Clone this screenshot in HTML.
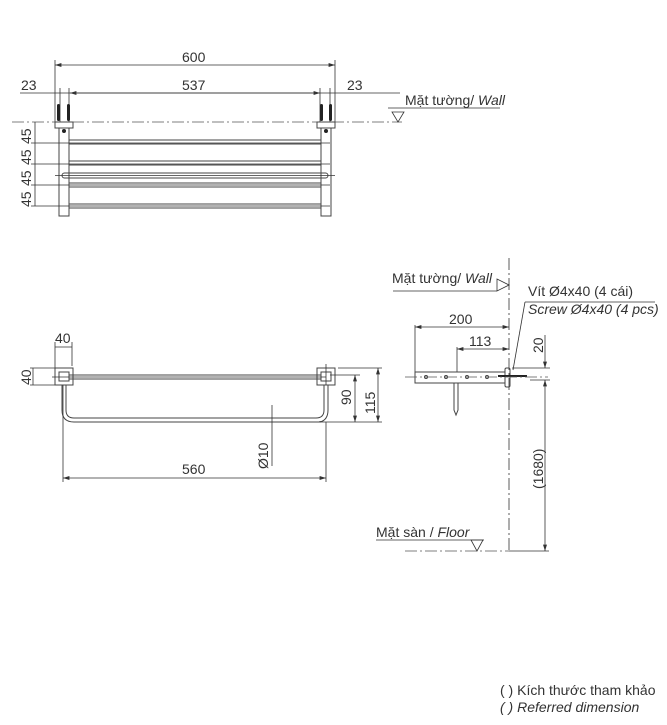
<!DOCTYPE html>
<html><head><meta charset="utf-8"><style>
html,body{margin:0;padding:0;background:#fff;}
svg{display:block;}
text{font-family:"Liberation Sans","DejaVu Sans",sans-serif;fill:#333;font-size:14px;}
.d{stroke:#333;stroke-width:0.8;fill:none;}
.t{stroke:#444;stroke-width:1;fill:none;}
.c{stroke:#555;stroke-width:0.8;fill:none;stroke-dasharray:12 3 2 3;}
</style></head><body>
<svg width="667" height="725" viewBox="0 0 667 725" xmlns="http://www.w3.org/2000/svg">
<defs><marker id="a" viewBox="0 0 8 6" refX="8" refY="3" markerWidth="8" markerHeight="6" orient="auto-start-reverse"><path d="M0,0.5 L8,3 L0,5.5z" fill="#333"/></marker></defs>

<!-- TOP VIEW -->
<text x="182" y="62">600</text>
<line class="d" x1="55" y1="65" x2="335" y2="65" marker-start="url(#a)" marker-end="url(#a)"/>
<line class="d" x1="55" y1="60" x2="55" y2="122"/><line class="d" x1="335" y1="60" x2="335" y2="122"/>
<text x="21" y="90">23</text><text x="347" y="90">23</text>
<text x="182" y="90">537</text>
<line class="d" x1="20" y1="93" x2="400" y2="93"/>
<line class="d" x1="70" y1="93" x2="320" y2="93" marker-start="url(#a)" marker-end="url(#a)"/>
<line class="d" x1="60" y1="88" x2="60" y2="122"/><line class="d" x1="69" y1="88" x2="69" y2="122"/>
<line class="d" x1="320" y1="88" x2="320" y2="122"/><line class="d" x1="330" y1="88" x2="330" y2="122"/>
<rect x="57" y="104" width="3" height="17" rx="1.5" fill="#222"/><rect x="67" y="104" width="3" height="17" rx="1.5" fill="#222"/>
<rect x="320" y="104" width="3" height="17" rx="1.5" fill="#222"/><rect x="329" y="104" width="3" height="17" rx="1.5" fill="#222"/>
<line class="c" x1="12" y1="122" x2="402" y2="122"/>
<text x="405" y="105">Mặt tường/ <tspan font-style="italic">Wall</tspan></text>
<line class="d" x1="388" y1="108" x2="500" y2="108"/>
<path class="d" d="M392,112 L404,112 L398,122z"/>
<rect class="t" x="55" y="122" width="18" height="6"/><rect class="t" x="317" y="122" width="18" height="6"/>
<rect class="t" x="59" y="128" width="10" height="88"/><rect class="t" x="321" y="128" width="10" height="88"/>
<circle cx="64" cy="131" r="2" fill="#222"/><circle cx="326" cy="131" r="2" fill="#222"/>
<rect class="t" x="69" y="140" width="252" height="4"/>
<rect class="t" x="69" y="161" width="252" height="4"/>
<rect class="t" x="62" y="173" width="266" height="5" rx="2.5"/>
<rect class="t" x="69" y="183" width="252" height="4"/>
<rect class="t" x="69" y="204" width="252" height="4"/>
<line class="d" x1="35" y1="122" x2="35" y2="206"/>
<line class="d" x1="31" y1="143" x2="330" y2="143"/><line class="d" x1="31" y1="164" x2="330" y2="164"/>
<line class="d" x1="31" y1="185" x2="330" y2="185"/><line class="d" x1="31" y1="206" x2="330" y2="206"/>
<line class="d" x1="55" y1="175.5" x2="335" y2="175.5"/>
<text transform="translate(31,144) rotate(-90)">45</text>
<text transform="translate(31,165) rotate(-90)">45</text>
<text transform="translate(31,186) rotate(-90)">45</text>
<text transform="translate(31,207) rotate(-90)">45</text>

<!-- PLAN VIEW -->
<text x="55" y="343">40</text>
<line class="d" x1="55" y1="347" x2="72" y2="347"/>
<line class="d" x1="55" y1="342" x2="55" y2="385"/><line class="d" x1="72" y1="342" x2="72" y2="366"/>
<line class="d" x1="30" y1="368" x2="55" y2="368"/><line class="d" x1="30" y1="385" x2="55" y2="385"/>
<line class="d" x1="33" y1="368" x2="33" y2="385"/>
<text transform="translate(31,385) rotate(-90)">40</text>
<rect class="t" x="55" y="368" width="18" height="17"/><rect class="t" x="59" y="372" width="10" height="9"/>
<rect class="t" x="317" y="368" width="18" height="17"/><rect class="t" x="321" y="372" width="10" height="9"/>
<rect class="t" x="69" y="375" width="252" height="4"/>
<line class="d" x1="52" y1="377" x2="326" y2="377"/>
<path class="t" d="M62,385 L62,410 Q62,422 74,422 L320,422 L320,421"/>
<path class="t" d="M66,385 L66,410 Q66,418 74,418 L316,418 Q324,418 324,410 L324,385"/>
<path class="t" d="M320,422 Q328,420 328,410 L328,385"/>
<line class="d" x1="326" y1="364" x2="326" y2="385"/>
<line class="d" x1="330" y1="375" x2="360" y2="375"/><line class="d" x1="320" y1="422" x2="382" y2="422"/>
<line class="d" x1="338" y1="368" x2="382" y2="368"/>
<line class="d" x1="355" y1="375" x2="355" y2="422" marker-start="url(#a)" marker-end="url(#a)"/>
<line class="d" x1="378" y1="368" x2="378" y2="422" marker-start="url(#a)" marker-end="url(#a)"/>
<text transform="translate(351,405) rotate(-90)">90</text>
<text transform="translate(375,414) rotate(-90)">115</text>
<line class="d" x1="272" y1="405" x2="272" y2="466"/>
<text transform="translate(268,469) rotate(-90)">Ø10</text>
<line class="d" x1="63" y1="385" x2="63" y2="482"/><line class="d" x1="326" y1="422" x2="326" y2="482"/>
<line class="d" x1="63" y1="478" x2="326" y2="478" marker-start="url(#a)" marker-end="url(#a)"/>
<text x="182" y="474">560</text>

<!-- SIDE VIEW -->
<line class="d" x1="509" y1="258" x2="509" y2="551" stroke-dasharray="12 3 2 3"/>
<text x="392" y="283">Mặt tường/ <tspan font-style="italic">Wall</tspan></text>
<line class="d" x1="393" y1="291" x2="497" y2="291"/>
<path class="d" d="M497,279 L509,285 L497,291z"/>
<text x="528" y="296">Vít Ø4x40 (4 cái)</text>
<text x="528" y="314" font-style="italic">Screw Ø4x40 (4 pcs)</text>
<line class="d" x1="525" y1="302" x2="655" y2="302"/>
<line class="d" x1="525" y1="302" x2="513" y2="370"/>
<text x="449" y="324">200</text>
<line class="d" x1="415" y1="327" x2="509" y2="327" marker-start="url(#a)" marker-end="url(#a)"/>
<line class="d" x1="415" y1="325" x2="415" y2="372"/>
<text x="469" y="346">113</text>
<line class="d" x1="457" y1="349" x2="509" y2="349" marker-start="url(#a)" marker-end="url(#a)"/>
<line class="d" x1="457" y1="347" x2="457" y2="372"/>
<rect class="t" x="415" y="372" width="90" height="11"/>
<circle class="t" cx="426" cy="377" r="1.5"/><circle class="t" cx="446" cy="377" r="1.5"/>
<circle class="t" cx="467" cy="377" r="1.5"/><circle class="t" cx="487" cy="377" r="1.5"/>
<path class="t" d="M454,383 L454,410 L456,415 L458,410 L458,383"/>
<rect class="t" x="505" y="368" width="5" height="19" rx="1.5"/>
<line x1="498" y1="376" x2="527" y2="376" stroke="#222" stroke-width="2"/>
<line class="c" x1="405" y1="377" x2="548" y2="377"/>
<line class="d" x1="512" y1="368" x2="550" y2="368"/><line class="d" x1="530" y1="380" x2="550" y2="380"/>
<line class="d" x1="545" y1="335" x2="545" y2="368" marker-end="url(#a)"/>
<line class="d" x1="545" y1="380" x2="545" y2="551" marker-start="url(#a)" marker-end="url(#a)"/>
<text transform="translate(543,353) rotate(-90)">20</text>
<text transform="translate(543,489) rotate(-90)">(1680)</text>
<text x="376" y="537">Mặt sàn / <tspan font-style="italic">Floor</tspan></text>
<line class="d" x1="376" y1="540" x2="484" y2="540"/>
<path class="d" d="M471,540 L483,540 L477,551z"/>
<line class="c" x1="405" y1="551" x2="509" y2="551"/>
<line class="d" x1="509" y1="551" x2="549" y2="551"/>

<text x="500" y="695" font-size="13">( ) Kích thước tham khảo</text>
<text x="500" y="712" font-size="13" font-style="italic">( ) Referred dimension</text>
</svg>
</body></html>
